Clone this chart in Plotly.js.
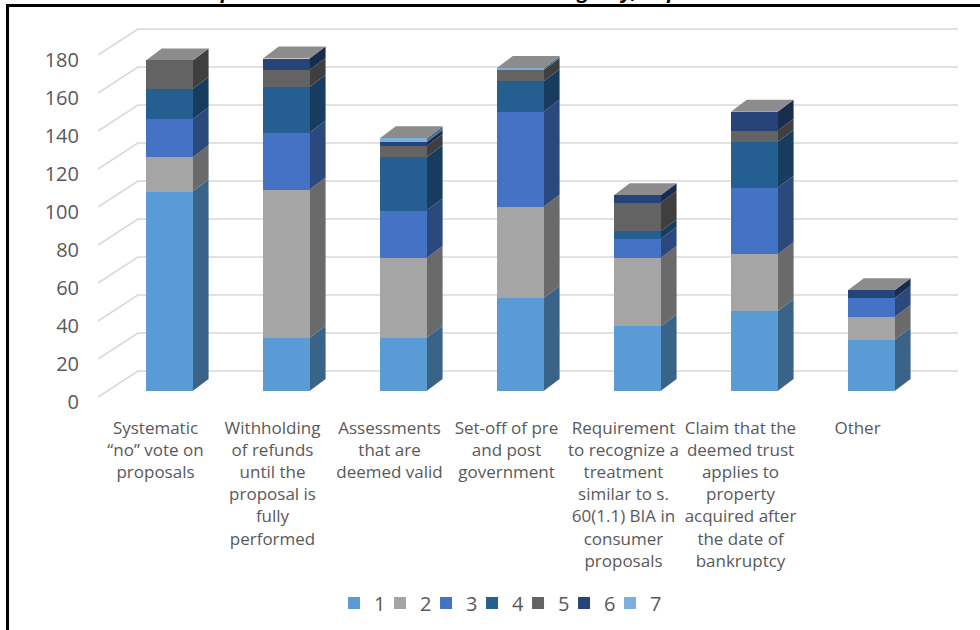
<!DOCTYPE html>
<html><head><meta charset="utf-8">
<script src="https://cdn.plot.ly/plotly-3.0.1.min.js"></script>
<style>html,body{margin:0;padding:0;background:#fff}#chart{width:980px;height:630px}</style>
</head><body><div id="chart"></div>
<script>
// ---- data ----
const categories = [
  "Systematic<br>“no” vote on<br>proposals",
  "Withholding<br>of refunds<br>until the<br>proposal is<br>fully<br>performed",
  "Assessments<br>that are<br>deemed valid",
  "Set-off of pre<br>and post<br>government",
  "Requirement<br>to recognize a<br>treatment<br>similar to s.<br>60(1.1) BIA in<br>consumer<br>proposals",
  "Claim that the<br>deemed trust<br>applies to<br>property<br>acquired after<br>the date of<br>bankruptcy",
  "Other"
];
const seriesNames = ["1", "2", "3", "4", "5", "6", "7"];
const s1 = [105, 28, 28, 49, 34, 42, 27];
const s2 = [18, 78, 42, 48, 36, 30, 12];
const s3 = [20, 30, 25, 50, 10, 35, 10];
const s4 = [16, 24, 28, 16, 4, 24, 0];
const s5 = [15, 9, 6, 6, 15, 6, 0];
const s6 = [0, 6, 2, 0, 4, 10, 4];
const s7 = [0, 0, 2, 1, 0, 0, 0];
const yTicks = [0, 20, 40, 60, 80, 100, 120, 140, 160, 180];
const titleText = "Graph: Issues with the Canada Revenue Agency, Importance score";

// ---- styling ----
const seriesColors = ["#5B9BD5", "#A5A5A5", "#4472C4", "#255E91", "#636363", "#264478", "#7CAFDD"];
const series = [s1, s2, s3, s4, s5, s6, s7];
const W = 980, H = 630, L = 98, R = 22, T = 20, B = 218;
const plotW = W - L - R, plotH = H - T - B;
const PXX = 117, PXY = 1.9;
const xStart = -(155.5 - L) / PXX;
const xRange = [xStart, xStart + plotW / PXX];
const yStart = (391 - (H - B)) / PXY;
const yRange = [yStart, yStart + plotH / PXY];
const barW = 0.40, barOff = -0.083;
const dx = 16 / PXX, dy = 12 / PXY;
const labelShift = 11 / PXY;      // front axis labels sit below the bar base
const wallShift = 20 / PXY;       // back wall gridlines sit above
const diagShift = 6 / PXY;

function shade(hex, f) {
  const n = parseInt(hex.slice(1), 16);
  const r = Math.round(((n >> 16) & 255) * f), g = Math.round(((n >> 8) & 255) * f), b = Math.round((n & 255) * f);
  return "rgb(" + r + "," + g + "," + b + ")";
}
const xIdx = categories.map((_, i) => i);

const traces = series.map((vals, k) => ({
  type: "bar", x: xIdx, y: vals, name: seriesNames[k],
  width: barW, offset: barOff,
  marker: {color: seriesColors[k], line: {width: 0}},
  hoverinfo: "y+name"
}));
// empty spacer entry so the last legend label is not clipped
traces.push({type: "bar", x: [null], y: [null], name: "\u00a0", showlegend: true, hoverinfo: "skip",
  marker: {color: "rgba(0,0,0,0)", line: {width: 0}}});

const shapes = [];
// gridlines (front diagonal + back wall)
const xWall = xStart + 40 / PXX, xEnd = xRange[1];
yTicks.forEach(v => {
  shapes.push({type: "path", xref: "x", yref: "y", layer: "below",
    path: `M ${xStart},${v - diagShift} L ${xWall},${v + wallShift} L ${xEnd},${v + wallShift}`,
    line: {color: "#d9d9d9", width: 1.5}});
});
// 3D side and top faces derived from the data
xIdx.forEach(i => {
  let base = 0;
  const xl = i + barOff, xr = xl + barW;
  series.forEach((vals, k) => {
    const v = vals[i];
    if (v > 0) {
      const t = base + v;
      shapes.push({type: "path", xref: "x", yref: "y", layer: "below",
        path: `M ${xr},${base} L ${xr + dx},${base + dy} L ${xr + dx},${t + dy} L ${xr},${t} Z`,
        fillcolor: shade(seriesColors[k], 0.64), line: {width: 0}});
      base = t;
    }
  });
  shapes.push({type: "path", xref: "x", yref: "y", layer: "below",
    path: `M ${xl},${base} L ${xl + dx},${base + dy} L ${xr + dx},${base + dy} L ${xr},${base} Z`,
    fillcolor: "#8c8c8c", line: {width: 0}});
});
// page frame lines
function px2x(px) { return (px - L) / plotW; }
function px2y(py) { return 1 - (py - T) / plotH; }
shapes.push({type: "line", xref: "paper", yref: "paper", x0: px2x(6), x1: px2x(980), y0: px2y(5.5), y1: px2y(5.5), line: {color: "#000", width: 3}});
shapes.push({type: "line", xref: "paper", yref: "paper", x0: px2x(7.5), x1: px2x(7.5), y0: px2y(4), y1: px2y(630), line: {color: "#000", width: 3}});

const layout = {
  width: W, height: H,
  margin: {l: L, r: R, t: T, b: B, pad: 0},
  paper_bgcolor: "#fff", plot_bgcolor: "rgba(0,0,0,0)",
  barmode: "stack",
  font: {family: "Open Sans, sans-serif", color: "#595959"},
  xaxis: {type: "linear", range: xRange, tickmode: "array", tickvals: xIdx, ticktext: categories,
    showgrid: false, zeroline: false, showline: false, ticks: "", tickangle: 0,
    tickfont: {size: 17, color: "#595959"}, ticklabelstandoff: 4, fixedrange: true},
  yaxis: {range: yRange, tickmode: "array", tickvals: yTicks.map(v => v - labelShift), ticktext: yTicks.map(String),
    showgrid: false, zeroline: false, showline: false, ticks: "",
    tickfont: {size: 20, color: "#595959"}, ticklabelstandoff: 18, fixedrange: true},
  showlegend: true,
  legend: {orientation: "h", xref: "container", yref: "container", x: 0.5286, xanchor: "center", y: 1 - 603 / 630, yanchor: "middle",
    font: {size: 20, color: "#595959"}, entrywidth: 1, traceorder: "normal", itemclick: false},
  shapes: shapes,
  annotations: [{xref: "paper", yref: "paper", x: px2x(497), y: px2y(6), xanchor: "center", yanchor: "bottom",
    text: "<b><i>" + titleText + "</i></b>", showarrow: false, font: {size: 20, color: "#000"}}]
};
Plotly.newPlot("chart", traces, layout, {displayModeBar: false, staticPlot: false});
</script></body></html>
